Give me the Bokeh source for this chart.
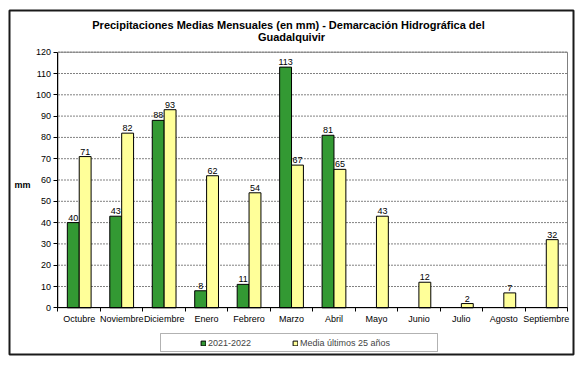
from bokeh.plotting import figure
from bokeh.models import (FixedTicker, Legend, LegendItem, Label, BoxAnnotation,
                          ColumnDataSource, Range1d, LinearAxis)
from bokeh.embed import file_html
from bokeh.resources import INLINE
from bokeh.core.properties import value

months = ["Octubre", "Noviembre", "Diciembre", "Enero", "Febrero", "Marzo",
          "Abril", "Mayo", "Junio", "Julio", "Agosto", "Septiembre"]
serie_2021_2022 = [40, 43, 88, 8, 11, 113, 81, None, None, None, None, None]
media_25 = [71, 82, 93, 62, 54, 67, 65, 43, 12, 2, 7, 32]
y_ticks = list(range(0, 121, 10))

title_1 = "Precipitaciones Medias Mensuales (en mm) - Demarcación Hidrográfica del"
title_2 = "Guadalquivir"
y_label = "mm"
label_a = "2021-2022"
label_b = "Media últimos 25 años"

FONT = "Liberation Sans"
GREEN = "#339933"
YELLOW = "#FFFF99"
BW = 0.28

n = len(months)
y_max = y_ticks[-1]
centers = [i + 0.5 for i in range(n)]

g_idx = [i for i, v in enumerate(serie_2021_2022) if v is not None]
src_g = ColumnDataSource(dict(
    x=[centers[i] - BW / 2 for i in g_idx],
    top=[serie_2021_2022[i] for i in g_idx],
    lab=[str(serie_2021_2022[i]) for i in g_idx],
))
src_y = ColumnDataSource(dict(
    x=[c + BW / 2 for c in centers],
    top=media_25,
    lab=[str(v) for v in media_25],
))

# The frame is the whole chart box; the plot area sits inside it.
p = figure(width=580, height=362, output_backend="svg", toolbar_location=None,
           x_range=Range1d(-1.142, n + 0.141), y_range=Range1d(-21.92, y_max + 19.58),
           x_axis_location=None, y_axis_location=None,
           min_border_left=9, min_border_right=7, min_border_top=10,
           min_border_bottom=8)
p.background_fill_color = "white"
p.border_fill_color = "white"
p.outline_line_color = "#1a1a1a"
p.outline_line_width = 2
p.xgrid.visible = False
p.ygrid.visible = False

# dashed gridlines across the plot area
p.segment(x0=0, x1=n, y0=y_ticks[1:], y1=y_ticks[1:], line_color="#808080",
          line_dash="2 1", line_width=1)
# plot-area border
p.quad(left=0, right=n, bottom=0, top=y_max, fill_alpha=0,
       line_color="#808080", line_width=1)

rg = p.vbar(x="x", top="top", width=BW, bottom=0, source=src_g,
            fill_color=GREEN, line_color="black", line_width=1)
ry = p.vbar(x="x", top="top", width=BW, bottom=0, source=src_y,
            fill_color=YELLOW, line_color="black", line_width=1)

for src in (src_g, src_y):
    p.text(x="x", y="top", text="lab", source=src, text_font=value(FONT),
           text_font_size="9px", text_align="center", text_baseline="bottom",
           y_offset=-2, text_color="black")

# axes drawn inside the frame at the plot-area edges
xaxis = LinearAxis(fixed_location=0, bounds=(0, n))
xaxis.ticker = FixedTicker(ticks=centers, minor_ticks=list(range(n + 1)))
xaxis.major_label_overrides = {c: m for c, m in zip(centers, months)}
xaxis.major_tick_line_color = None
xaxis.major_tick_out = 0
xaxis.major_tick_in = 0
xaxis.minor_tick_line_color = "black"
xaxis.minor_tick_out = 4
xaxis.minor_tick_in = 0
xaxis.major_label_standoff = 2
xaxis.major_label_text_font = FONT
xaxis.major_label_text_font_size = "9px"
xaxis.major_label_text_color = "black"
xaxis.axis_line_color = "black"
p.add_layout(xaxis, "below")

yaxis = LinearAxis(fixed_location=0, bounds=(0, y_max))
yaxis.ticker = FixedTicker(ticks=y_ticks)
yaxis.minor_tick_line_color = None
yaxis.major_tick_out = 4
yaxis.major_tick_in = 0
yaxis.major_tick_line_color = "black"
yaxis.major_label_standoff = 3
yaxis.major_label_text_font = FONT
yaxis.major_label_text_font_size = "9px"
yaxis.major_label_text_color = "black"
yaxis.axis_line_color = "black"
p.add_layout(yaxis, "left")

# titles and axis label (screen units from the frame's bottom-left)
p.add_layout(Label(x=279, y=329.5, x_units="screen", y_units="screen", text=title_1,
                   text_font=FONT, text_font_size="11px", text_font_style="bold",
                   text_align="center", text_baseline="alphabetic", text_color="black"))
p.add_layout(Label(x=282, y=318, x_units="screen", y_units="screen", text=title_2,
                   text_font=FONT, text_font_size="11px", text_font_style="bold",
                   text_align="center", text_baseline="alphabetic", text_color="black"))
p.add_layout(Label(x=13, y=170, x_units="screen", y_units="screen", text=y_label,
                   text_font=FONT, text_font_size="9px", text_font_style="bold",
                   text_align="center", text_baseline="alphabetic", text_color="black"))

# legend box
lbox = BoxAnnotation(left=151, right=428, top=21, bottom=3,
                     left_units="screen", right_units="screen",
                     top_units="screen", bottom_units="screen",
                     fill_color="white", fill_alpha=1, line_color="black", line_width=1)
p.add_layout(lbox)

legend = Legend(items=[LegendItem(label=label_a, renderers=[rg]),
                       LegendItem(label=label_b, renderers=[ry])],
                orientation="horizontal", location=(191, 6),
                glyph_width=6, glyph_height=6, label_height=10,
                label_standoff=2, spacing=41, padding=3, margin=0,
                label_text_font=FONT, label_text_font_size="9px",
                border_line_color=None, background_fill_alpha=0)
p.add_layout(legend, "center")

open("out.html", "w").write(file_html(p, INLINE))
